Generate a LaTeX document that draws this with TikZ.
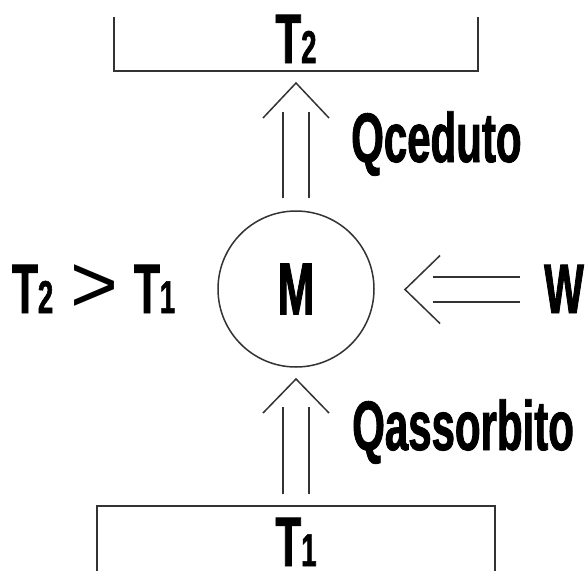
\documentclass[tikz,border=0pt]{standalone}
\usepackage{fontspec}
\setmainfont{Liberation Sans}[FakeStretch=0.6, BoldFeatures={FakeBold=1.2}]
\newfontfamily\plainfont{Liberation Sans}
\usetikzlibrary{calc}
\newcommand\subd[1]{{\fontsize{46}{46}\selectfont #1}}
\tikzset{
  lbl/.style={font=\fontsize{70}{70}\selectfont\bfseries, inner sep=0pt, anchor=base},
  ln/.style={draw=black!80, line width=1.5pt},
}
\begin{document}
\begin{tikzpicture}[x=1pt,y=-1pt]
\useasboundingbox (0,0) rectangle (586,570);
% reservoirs
\coordinate (r2a) at (114,17);
\coordinate (r2b) at (478,17);
\coordinate (r1a) at (97,575);
\coordinate (r1b) at (495,575);
\draw[ln] (r2a) -- (r2a |- 0,71) -- (r2b |- 0,71) -- (r2b);
\draw[ln] (r1a) -- (r1a |- 0,506) -- (r1b |- 0,506) -- (r1b);
\node[lbl] (t2) at (296,63) {T\subd{2}};
\node[lbl] (t1) at (296,566) {T\subd{1}};
% machine
\node[ln, circle, minimum size=156pt, inner sep=0pt, font=\fontsize{74}{74}\selectfont\bfseries] (m) at (296,289) {M};
% upper arrow
\coordinate (ua) at (296,83);
\draw[ln] ($(m.north)+(-13,-12)$) -- ($(ua)+(-13,29)$);
\draw[ln] ($(m.north)+(13,-12)$) -- ($(ua)+(13,29)$);
\draw[ln] ($(ua)+(-33,35)$) -- (ua) -- ($(ua)+(33,35)$);
\node[lbl, anchor=base west] (qc) at (351,162) {Qceduto};
% lower arrow
\coordinate (la) at (296,379);
\draw[ln] ($(r1a |- 0,506)!0.5!(r1b |- 0,506)+(-13,-12)$) -- ($(la)+(-13,28)$);
\draw[ln] ($(r1a |- 0,506)!0.5!(r1b |- 0,506)+(13,-12)$) -- ($(la)+(13,28)$);
\draw[ln] ($(la)+(-33,34)$) -- (la) -- ($(la)+(33,34)$);
\node[lbl, anchor=base west] (qa) at (352,450) {Qassorbito};
% work arrow
\node[lbl, anchor=base west] (w) at (544,313) {W};
\coordinate (wa) at (405,289.5);
\draw[ln] ($(wa)+(28,-12.5)$) -- ($(w.base west)+(-24,-36)$);
\draw[ln] ($(wa)+(28,12.5)$) -- ($(w.base west)+(-24,-11)$);
\draw[ln] ($(wa)+(35,-34)$) -- (wa) -- ($(wa)+(35,34)$);
% inequality
\node[lbl, anchor=base west] (ta) at (12,313) {T\subd{2}};
\node[inner sep=0pt, anchor=base, font=\plainfont\fontsize{82}{82}\selectfont] (gt) at (94,312) {>};
\node[lbl, anchor=base west] (tb) at (134,313) {T\subd{1}};
\end{tikzpicture}
\end{document}
